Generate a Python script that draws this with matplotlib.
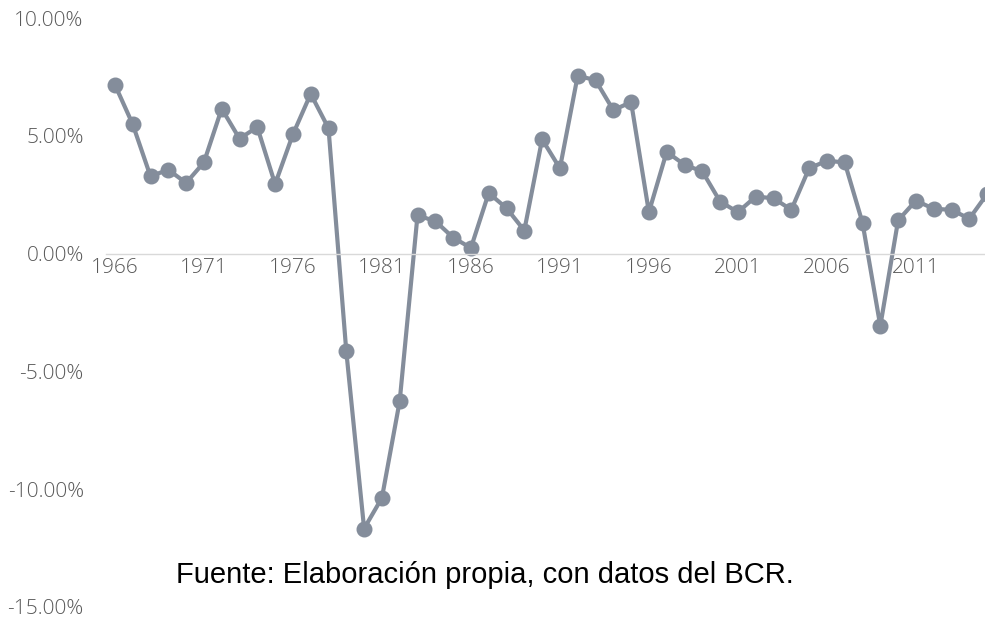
import matplotlib
matplotlib.use("Agg")
import matplotlib.pyplot as plt
from matplotlib.ticker import FuncFormatter

years = list(range(1966, 2016))
growth = [7.17, 5.49, 3.28, 3.56, 3.00, 3.87, 6.15, 4.88, 5.37, 2.95,
          5.06, 6.78, 5.32, -4.15, -11.67, -10.37, -6.26, 1.62, 1.38, 0.68,
          0.24, 2.57, 1.93, 0.98, 4.85, 3.62, 7.55, 7.36, 6.09, 6.43,
          1.76, 4.32, 3.77, 3.49, 2.21, 1.76, 2.42, 2.35, 1.86, 3.62,
          3.94, 3.87, 1.31, -3.07, 1.41, 2.25, 1.90, 1.86, 1.48, 2.53]
tick_years = list(range(1966, 2016, 5))
caption = "Fuente: Elaboración propia, con datos del BCR."

W, H = 985, 620
fig = plt.figure(figsize=(W / 100, H / 100), dpi=100)
# plot area runs past the right border of the picture, as in the original
left, right, top, bottom = 106, 996, 18, 607
ax = fig.add_axes([left / W, 1 - bottom / H, (right - left) / W, (bottom - top) / H])

ax.plot(years, growth, color="#848d9b", linewidth=3, marker="o",
        markersize=10.5, clip_on=False)

ax.set_xlim(1965.5, 2015.5)
ax.set_ylim(-15, 10)
ax.set_yticks([-15, -10, -5, 0, 5, 10])
ax.yaxis.set_major_formatter(FuncFormatter(lambda v, p: f"{v:.2f}%"))
ax.set_xticks(tick_years)

for s in ["top", "right", "left"]:
    ax.spines[s].set_visible(False)
ax.spines["bottom"].set_position(("data", 0))
ax.spines["bottom"].set_color("#d9d9d9")
ax.spines["bottom"].set_linewidth(1)

ax.tick_params(axis="y", length=0, pad=16, labelsize=15, labelcolor="#595959")
ax.tick_params(axis="x", length=0, pad=3, labelsize=15, labelcolor="#595959")
for lab in ax.get_xticklabels() + ax.get_yticklabels():
    lab.set_fontfamily("Open Sans")
    lab.set_fontweight("light")

fig.text(485 / W, 1 - 575 / H, caption, ha="center", va="center",
         fontsize=21, family="Liberation Sans", color="black")

fig.savefig("out.png", dpi=100)
